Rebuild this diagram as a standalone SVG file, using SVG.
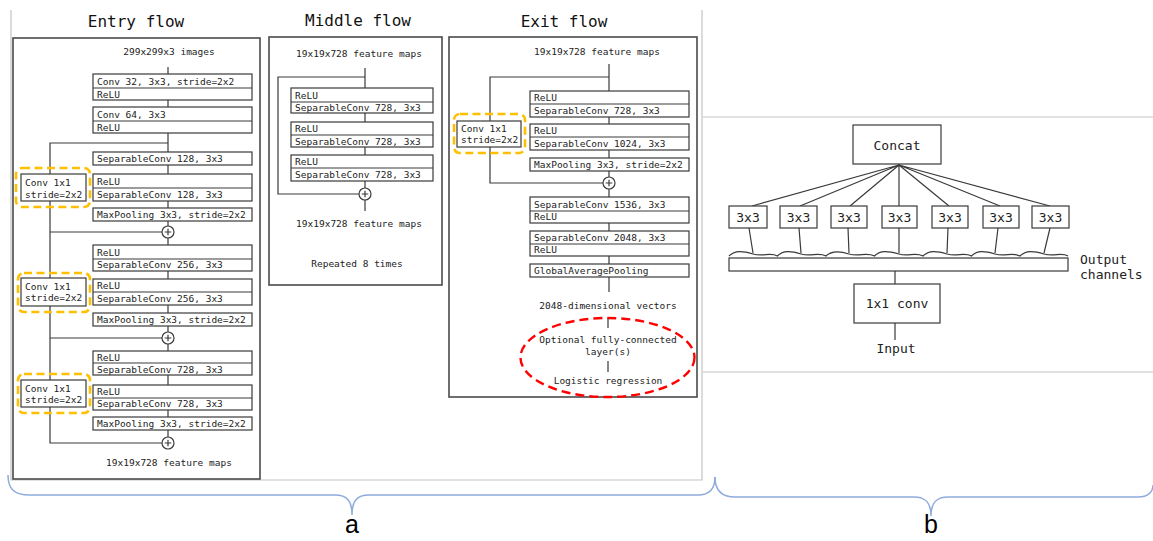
<svg xmlns="http://www.w3.org/2000/svg" width="1153" height="541" viewBox="0 0 1153 541">
<defs>
<style>
.bg{fill:#fff}
.fr{fill:none;stroke:#c4c4c4;stroke-width:1.2}
.fb{fill:#fff;stroke:#4a4a4a;stroke-width:1.6}
.b{fill:#fff;stroke:#3a3a3a;stroke-width:1.2}
.ln{fill:none;stroke:#3a3a3a;stroke-width:1.2}
.t{font-family:"DejaVu Sans Mono","Liberation Mono",monospace;font-size:9.5px;fill:#222}
.c{text-anchor:middle}
.ti{font-family:"DejaVu Sans Mono","Liberation Mono",monospace;font-size:16px;fill:#111;text-anchor:middle}
.rt{font-family:"DejaVu Sans Mono","Liberation Mono",monospace;font-size:13px;fill:#222}
.or{fill:none;stroke:#FFC000;stroke-width:2.6;stroke-dasharray:8 4.5}
.rd{fill:none;stroke:#FF0000;stroke-width:2.4;stroke-dasharray:9 5}
.br{fill:none;stroke:#8FAADC;stroke-width:1.5}
.lab{font-family:"Liberation Sans","Open Sans",sans-serif;font-size:25px;fill:#000;text-anchor:middle}
</style>
<g id="plus"><circle cx="0" cy="0" r="6" class="b"/><path d="M-3.3 0H3.3M0 -3.3V3.3" class="ln"/></g>
</defs>
<rect class="bg" x="0" y="0" width="1153" height="541"/>

<g id="frames">
<path class="fr" d="M11 10V480H702V10"/>
<path class="fr" d="M703 117H1153M703 372H1153"/>
</g>

<g id="entry-flow">
<text class="ti" x="136" y="27">Entry flow</text>
<rect class="fb" x="13" y="38" width="247" height="441"/>
<text class="t c" x="169" y="55">299x299x3 images</text>
</g>
<g id="middle-flow">
<text class="ti" x="358" y="26">Middle flow</text>
<rect class="fb" x="269" y="37" width="173" height="248"/>
<text class="t c" x="359" y="57">19x19x728 feature maps</text>
<text class="t c" x="359" y="227">19x19x728 feature maps</text>
<text class="t c" x="357" y="267">Repeated 8 times</text>
</g>
<g id="exit-flow">
<text class="ti" x="564" y="27">Exit flow</text>
<rect class="fb" x="449" y="37" width="248" height="360"/>
<text class="t c" x="597" y="55">19x19x728 feature maps</text>
</g>

<g id="connectors">
<path class="ln" d="M168 67V74M168 100V107M168 133V152M168 165V174M168 201V208M168 221V226M168 238V245M168 271V279M168 305V313M168 326V332M168 344V351M168 375V385M168 410V417M168 430V437"/>
<path class="ln" d="M168 143H50V174M50 201V232H162M50 232V278M50 306V338H162M50 338V380M50 407V443H162"/>
<path class="ln" d="M365 68V88M365 113V122M365 147V155M365 181V188M365 200V211M365 77H278V194H359"/>
<path class="ln" d="M609 64V91M609 117V124M609 150V158M609 171V177M609 189V197M609 223V231M609 256V264M609 277V292M608 318V328M608 361V372M609 77H490V121M490 147V183H603"/>
<path class="ln" d="M899 165L752 206M899 165L800 206M899 165L850 206M899 165L899 206M899 165L949 206M899 165L1000 206M899 165L1050 206"/>
<path class="ln" d="M749 228L753 253M799 228L801 253M848 228L849 253M899 228L899 253M948 228L947 253M998 228L995 253M1050 228L1044 253"/>
<path class="ln" d="M895 271V284M895 323V340"/>
</g>

<g id="entry-blocks">
<rect class="b" x="93" y="74" width="159" height="26"/><path class="ln" d="M93 88H252"/>
<text class="t" x="97" y="84.5">Conv 32, 3x3, stride=2x2</text><text class="t" x="97" y="97.5">ReLU</text>
<rect class="b" x="93" y="107" width="159" height="26"/><path class="ln" d="M93 121H252"/>
<text class="t" x="97" y="117.5">Conv 64, 3x3</text><text class="t" x="97" y="130.5">ReLU</text>
<rect class="b" x="93" y="152" width="159" height="13"/>
<text class="t" x="97" y="161.8">SeparableConv 128, 3x3</text>
<rect class="b" x="93" y="174" width="159" height="27"/><path class="ln" d="M93 188H252"/>
<text class="t" x="97" y="184.5">ReLU</text><text class="t" x="97" y="197.8">SeparableConv 128, 3x3</text>
<rect class="b" x="93" y="208" width="159" height="13"/>
<text class="t" x="97" y="217.8">MaxPooling 3x3, stride=2x2</text>
<rect class="b" x="93" y="245" width="159" height="26"/><path class="ln" d="M93 259H252"/>
<text class="t" x="97" y="255.5">ReLU</text><text class="t" x="97" y="268.3">SeparableConv 256, 3x3</text>
<rect class="b" x="93" y="279" width="159" height="26"/><path class="ln" d="M93 292H252"/>
<text class="t" x="97" y="288.8">ReLU</text><text class="t" x="97" y="301.8">SeparableConv 256, 3x3</text>
<rect class="b" x="93" y="313" width="159" height="13"/>
<text class="t" x="97" y="322.8">MaxPooling 3x3, stride=2x2</text>
<rect class="b" x="93" y="351" width="159" height="24"/><path class="ln" d="M93 363H252"/>
<text class="t" x="97" y="360.5">ReLU</text><text class="t" x="97" y="372.5">SeparableConv 728, 3x3</text>
<rect class="b" x="93" y="385" width="159" height="25"/><path class="ln" d="M93 398H252"/>
<text class="t" x="97" y="394.8">ReLU</text><text class="t" x="97" y="407.3">SeparableConv 728, 3x3</text>
<rect class="b" x="93" y="417" width="159" height="13"/>
<text class="t" x="97" y="426.8">MaxPooling 3x3, stride=2x2</text>
<use href="#plus" x="168" y="232"/>
<use href="#plus" x="168" y="338"/>
<use href="#plus" x="168" y="443"/>
<text class="t c" x="169" y="466">19x19x728 feature maps</text>
</g>

<g id="entry-shortcuts">
<rect class="b" x="21" y="174" width="65" height="27"/>
<text class="t" x="25" y="186.3">Conv 1x1</text><text class="t" x="25" y="197.5">stride=2x2</text>
<rect class="or" x="16" y="168" width="74" height="39" rx="6"/>
<rect class="b" x="21" y="278" width="65" height="28"/>
<text class="t" x="25" y="289.5">Conv 1x1</text><text class="t" x="25" y="300.8">stride=2x2</text>
<rect class="or" x="18" y="273" width="72" height="39" rx="6"/>
<rect class="b" x="21" y="380" width="65" height="27"/>
<text class="t" x="25" y="391.5">Conv 1x1</text><text class="t" x="25" y="402.8">stride=2x2</text>
<rect class="or" x="18" y="374" width="72" height="39" rx="6"/>
</g>

<g id="middle-blocks">
<rect class="b" x="291" y="88" width="142" height="25"/><path class="ln" d="M291 102H433"/>
<text class="t" x="295" y="98.5">ReLU</text><text class="t" x="295" y="111">SeparableConv 728, 3x3</text>
<rect class="b" x="291" y="122" width="142" height="25"/><path class="ln" d="M291 135H433"/>
<text class="t" x="295" y="131.8">ReLU</text><text class="t" x="295" y="144.5">SeparableConv 728, 3x3</text>
<rect class="b" x="291" y="155" width="142" height="26"/><path class="ln" d="M291 168H433"/>
<text class="t" x="295" y="164.8">ReLU</text><text class="t" x="295" y="177.8">SeparableConv 728, 3x3</text>
<use href="#plus" x="365" y="194"/>
</g>

<g id="exit-blocks">
<rect class="b" x="530" y="91" width="159" height="26"/><path class="ln" d="M530 104H689"/>
<text class="t" x="534" y="100.8">ReLU</text><text class="t" x="534" y="113.8">SeparableConv 728, 3x3</text>
<rect class="b" x="530" y="124" width="159" height="26"/><path class="ln" d="M530 137H689"/>
<text class="t" x="534" y="133.8">ReLU</text><text class="t" x="534" y="146.8">SeparableConv 1024, 3x3</text>
<rect class="b" x="530" y="158" width="159" height="13"/>
<text class="t" x="534" y="167.8">MaxPooling 3x3, stride=2x2</text>
<use href="#plus" x="609" y="183"/>
<rect class="b" x="530" y="197" width="159" height="26"/><path class="ln" d="M530 211H689"/>
<text class="t" x="534" y="207.5">SeparableConv 1536, 3x3</text><text class="t" x="534" y="220.3">ReLU</text>
<rect class="b" x="530" y="231" width="159" height="25"/><path class="ln" d="M530 244H689"/>
<text class="t" x="534" y="240.8">SeparableConv 2048, 3x3</text><text class="t" x="534" y="253.3">ReLU</text>
<rect class="b" x="530" y="264" width="159" height="13"/>
<text class="t" x="534" y="273.8">GlobalAveragePooling</text>
<text class="t c" x="608" y="309">2048-dimensional vectors</text>
<text class="t c" x="608" y="343">Optional fully-connected</text>
<text class="t c" x="608" y="354.5">layer(s)</text>
<text class="t c" x="608" y="384">Logistic regression</text>
<ellipse class="rd" cx="607.5" cy="357.5" rx="87" ry="39.5"/>
</g>

<g id="exit-shortcut">
<rect class="b" x="457" y="121" width="64" height="26"/>
<text class="t" x="461" y="131.5">Conv 1x1</text><text class="t" x="461" y="142.8">stride=2x2</text>
<rect class="or" x="454" y="114" width="71" height="39" rx="6"/>
</g>

<g id="concat">
<rect class="b" x="853" y="125" width="88" height="39"/>
<text class="rt c" x="897" y="149.5">Concat</text>
</g>
<g id="convs3x3">
<rect class="b" x="729" y="206" width="38" height="22"/><text class="rt c" x="748" y="221.5">3x3</text>
<rect class="b" x="780" y="206" width="37" height="22"/><text class="rt c" x="798.5" y="221.5">3x3</text>
<rect class="b" x="831" y="206" width="36" height="22"/><text class="rt c" x="849" y="221.5">3x3</text>
<rect class="b" x="882" y="206" width="35" height="22"/><text class="rt c" x="899.5" y="221.5">3x3</text>
<rect class="b" x="932" y="206" width="36" height="22"/><text class="rt c" x="950" y="221.5">3x3</text>
<rect class="b" x="983" y="206" width="36" height="22"/><text class="rt c" x="1001" y="221.5">3x3</text>
<rect class="b" x="1032" y="206" width="37" height="22"/><text class="rt c" x="1050.5" y="221.5">3x3</text>
</g>
<g id="output-channels">
<path class="ln" d="M729 256C735 250 743 251 753 254C763 257 770 252 777.5 256C783 250 791 251 801 254C811 257 818 252 826 256C832 250 840 251 849 254C859 257 866 252 874.5 256C880 250 888 251 899 254C908 257 915 252 923 256C929 250 937 251 947 254C957 257 964 252 971.5 256C977 250 985 251 995 254C1005 257 1012 252 1020 256C1026 250 1034 251 1044 254C1054 257 1061 252 1068 256"/>
<rect class="b" x="729" y="258" width="339" height="13"/>
<text class="rt" x="1080" y="264">Output</text>
<text class="rt" x="1080" y="279">channels</text>
</g>
<g id="conv1x1">
<rect class="b" x="854" y="284" width="86" height="39"/>
<text class="rt c" x="897" y="308">1x1 conv</text>
<text class="rt c" x="896" y="353">Input</text>
</g>

<g id="braces">
<path class="br" d="M8 475C8 489 14 495 30 495L335 495C347 495 352 501 352 515C352 501 357 495 369 495L698 495C710 495 715 489 715 477"/>
<path class="br" d="M715 477C715 490 721 497 735 497L914 497C926 497 931 503 931 516C931 503 936 497 948 497L1138 497C1148 497 1153 492 1153 485"/>
<text class="lab" x="352" y="533">a</text>
<text class="lab" x="931" y="533">b</text>
</g>
</svg>
